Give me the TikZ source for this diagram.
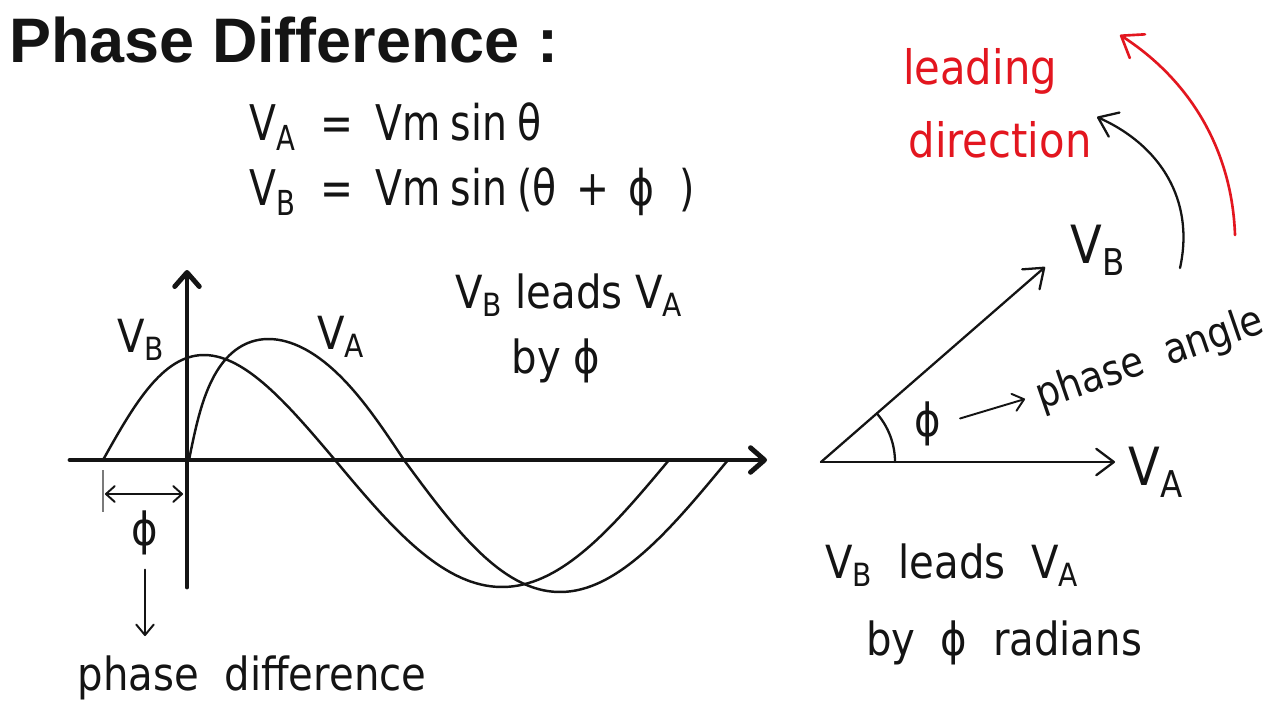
\documentclass[tikz,border=0pt]{standalone}
\usepackage{fontspec}
\setmainfont{DejaVu Sans}[FakeStretch=0.88]
\newfontfamily\titlefont{Liberation Sans}
\newfontfamily\eqfont{DejaVu Sans}[FakeStretch=0.8]
\usetikzlibrary{arrows.meta}
\definecolor{ink}{HTML}{141414}
\definecolor{leadred}{HTML}{E3161F}
\definecolor{tickgray}{HTML}{7A7A7A}
\newcommand{\Vs}[1]{V\textsubscript{#1}}
\tikzset{
  axisline/.style={draw=ink, line width=2.8pt, line cap=round, -{Straight Barb[length=8pt,width=14pt,line cap=round,line join=round]}},
  wave/.style={draw=ink, line width=1.4pt, line cap=round, line join=round},
  vec/.style={draw=ink, line width=1.3pt, line cap=round, -{Straight Barb[length=10pt,width=15pt,line cap=round,line join=round]}},
  pointer/.style={draw=ink, line width=1.1pt, line cap=round, -{Straight Barb[length=6pt,width=10pt,line cap=round,line join=round]}},
  redarr/.style={draw=leadred, line width=1.5pt, line cap=round, -{Straight Barb[length=11pt,width=16pt,line cap=round,line join=round]}},
  ttl/.style={font=\titlefont\bfseries\fontsize{35.8}{40}\selectfont, text=ink, inner sep=0pt},
  eq/.style={font=\eqfont\fontsize{28}{34}\selectfont, text=ink, inner sep=0pt},
  lab/.style={font=\fontsize{26}{30}\selectfont, text=ink, inner sep=0pt},
  biglab/.style={font=\fontsize{30}{34}\selectfont, text=ink, inner sep=0pt},
  redlab/.style={font=\fontsize{27}{31}\selectfont, text=leadred, inner sep=0pt},
}

\begin{document}
\begin{tikzpicture}[x=0.02cm, y=-0.02cm]
  \fill[white] (0,0) rectangle (1280,720);
  \useasboundingbox (0,0) rectangle (1280,720);

  \node[ttl, anchor=base west] (ttl) at (9,62) {Phase Difference :};
  \node[eq, anchor=base west] (eqA) at (249,140) {\Vs{A}\hspace{0.5em}=\hspace{0.45em}Vm\hspace{0.2em}sin\hspace{0.2em}θ};
  \node[eq, anchor=base west] (eqB) at (249,205) {\Vs{B}\hspace{0.5em}=\hspace{0.45em}Vm\hspace{0.2em}sin\hspace{0.2em}(θ\hspace{0.4em}+\hspace{0.4em}ϕ\hspace{0.5em})};

  % waveforms
  \coordinate (xL) at (70,460);
  \coordinate (xR) at (767,460);
  \coordinate (yB) at (187,587);
  \coordinate (yT) at (187,270);
  \draw[axisline] (xL) -- (xR);
  \draw[axisline] (yB) -- (yT);
  \draw[wave] plot[domain=0:pi, samples=70, variable=\t] ({189+215*\t/pi-28*sin(\t r)-8*sin(2*\t r)}, {460-121*sin(\t r)})
    -- plot[domain=pi:2*pi, samples=70, variable=\t] ({404+324*(\t-pi)/pi+6*sin(\t r)}, {460-132*sin(\t r)});
  \draw[wave] plot[domain=0:pi, samples=70, variable=\t] ({103+232*\t/pi-15*sin(\t r)}, {460-105*sin(\t r)})
    -- plot[domain=pi:2*pi, samples=70, variable=\t] ({335+334*(\t-pi)/pi}, {460-127*sin(\t r)});
  \node[lab] (vbW) at (141,340) {\Vs{B}};
  \node[lab] (vaW) at (341,337) {\Vs{A}};
  \node[lab, anchor=base] (lead1) at (569,308) {\Vs{B} leads \Vs{A}};
  \node[lab, anchor=base] (lead1b) at (556,373) {by ϕ};

  % phase offset
  \coordinate (tk1) at (103,470);
  \coordinate (tk2) at (103,512);
  \draw[tickgray, line width=1.4pt] (tk1) -- (tk2);
  \coordinate (dL) at (105,494);
  \coordinate (dR) at (183,494);
  \draw[pointer, {Straight Barb[length=5pt,width=9pt,line cap=round,line join=round]}-{Straight Barb[length=5pt,width=9pt,line cap=round,line join=round]}] (dL) -- (dR);
  \node[lab] (phiL) at (145,533) {ϕ};
  \node[lab, anchor=base] (pdiff) at (252,690) {phase\ \ difference};
  \coordinate (pd2) at (145,636);
  \draw[pointer, shorten <=8pt] (phiL.south) -- (pd2);

  % phasors
  \coordinate (O) at (821,462);
  \coordinate (A) at (1115,462);
  \coordinate (B) at (1045,267);
  \draw[vec] (O) -- (A);
  \draw[vec] (O) -- (B);
  \draw[wave, line width=1.3pt] (O) ++(74,0) arc[start angle=0, end angle=-41, radius=74];
  \node[lab] (phiR) at (928,424) {ϕ};
  \node[lab, font=\fontsize{24}{28}\selectfont, rotate=19] (pang) at (1150,360) {phase\ \ angle};
  \coordinate (pa2) at (1025,399);
  \draw[pointer, shorten <=11pt] (phiR.east) -- (pa2);
  \node[biglab] (vbP) at (1098,250) {\Vs{B}};
  \node[biglab] (vaP) at (1156,472) {\Vs{A}};
  \coordinate (c1) at (1180,268);
  \coordinate (c2) at (1097,117);
  \draw[vec] (c1) .. controls (1195,200) and (1160,145) .. (c2);
  \coordinate (r1) at (1235,235);
  \coordinate (r2) at (1120,35);
  \draw[redarr] (r1) .. controls (1232,150) and (1190,80) .. (r2);
  \node[redlab, anchor=base] (ld1) at (980,84) {leading};
  \node[redlab, anchor=base] (ld2) at (1000,157) {direction};
  \node[lab, anchor=base] (lead2) at (952,578) {\Vs{B}\ \ leads\ \ \Vs{A}};
  \node[lab, anchor=base] (lead2b) at (1004,655) {by\ \ ϕ\ \ radians};
\end{tikzpicture}
\end{document}
